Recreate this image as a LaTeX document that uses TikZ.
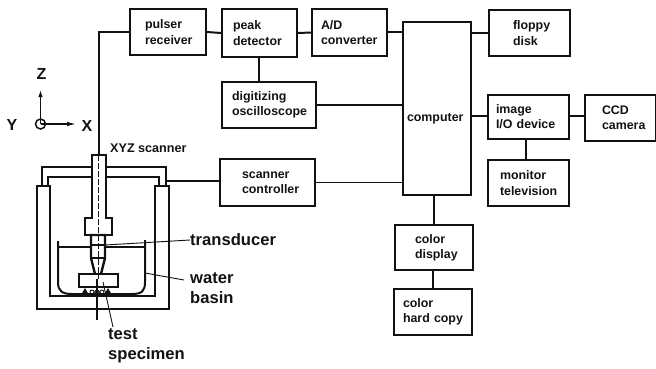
\documentclass[tikz,border=0pt]{standalone}
\usepackage{fontspec}
\setmainfont{Liberation Sans}
\usetikzlibrary{arrows.meta}
\definecolor{ink}{gray}{0.07}
\tikzset{
 x=1pt,y=-1pt,
 box/.style n args={3}{draw=ink,line width=2pt,rectangle,anchor=north west,inner xsep=0pt,inner ysep=0pt,
   text width=#1pt,minimum height=#2pt,align=left,text=ink,
   font=\fontsize{12.4}{15.2}\selectfont\bfseries,
   execute at begin node={\leftskip=#3pt\relax}},
 wire/.style={draw=ink,line width=2pt},
 thinwire/.style={draw=ink,line width=1.3pt},
 wall/.style={draw=ink,line width=2pt},
 fine/.style={draw=ink,line width=0.9pt},
 biglab/.style={font=\fontsize{16.6}{20}\selectfont\bfseries,text=ink,align=left,inner sep=0pt,anchor=west},
 axislab/.style={font=\fontsize{16}{18}\selectfont\bfseries,text=ink,inner sep=0pt},
}
\begin{document}
\begin{tikzpicture}
\useasboundingbox (0,0) rectangle (656,368);
% blocks
\node[box={76}{46}{15}]  (pulser)  at (129,8)   {pulser\\receiver};
\node[box={75}{48}{11}]  (peak)    at (221,8)   {peak\\detector};
\node[box={75}{47}{9}]   (adc)     at (311,8)   {A/D\\converter};
\node[box={68}{173}{4}]  (computer) at (402,21) {\smash{\raisebox{-13pt}{computer}}};
\node[box={81}{46}{24}]  (floppy)  at (488,9)   {floppy\\disk};
\node[box={81}{44}{8}]   (image)   at (487,94)  {image\\I/O device};
\node[box={71}{46}{17}]  (ccd)     at (584,94)  {CCD\\camera};
\node[box={81}{46}{12}]  (monitor) at (487,159) {monitor\\television};
\node[box={94}{46}{10}]  (digit)   at (221,81)  {digitizing\\oscilloscope};
\node[box={95}{47}{22}]  (scanner) at (219,158) {scanner\\controller};
\node[box={78}{45}{20}]  (display) at (394,224) {color\\display};
\node[box={78}{46}{9}]   (hard)    at (393,288) {color\\hard copy};
% connectors between blocks
\draw[wire] (pulser.east) -- (peak.west);
\draw[wire] (peak.east) -- (adc.west);
\draw[wire] ([yshift=0.5pt]adc.east) -- ([yshift=0.5pt]adc.east -| computer.west);
\draw[wire] (floppy.west) -- (floppy.west -| computer.east);
\draw[wire] (peak.south -| 259,0) -- (digit.north -| 259,0);
\draw[thinwire] (digit.east) -- (digit.east -| computer.west);
\draw[wire] ([yshift=1pt]image.west) -- ([yshift=1pt]image.west -| computer.east);
\draw[wire] ([yshift=1pt]image.east) -- ([yshift=1pt]image.east -| ccd.west);
\draw[wire] (image.south -| 526,0) -- (monitor.north -| 526,0);
\draw[thinwire] (scanner.east) -- (scanner.east -| computer.west);
\draw[wire] (434,0 |- computer.south) -- (434,0 |- display.north);
\draw[wire] (433,0 |- display.south) -- (433,0 |- hard.north);
% named ends on the apparatus
\coordinate (shafttop) at (99,154);
\coordinate (gantry) at (166,181);
\draw[wire] (shafttop) |- (pulser.west);
\draw[thinwire] (gantry) -- (gantry -| scanner.west);
% axes
\coordinate (orig) at (40.5,124);
\coordinate (zend) at (40.5,90);
\coordinate (xend) at (76,124);
\draw[fine,line width=1.2pt,-{Latex[length=7pt,width=4.5pt]}] (orig) -- (zend);
\draw[fine,line width=1.2pt,-{Latex[length=9pt,width=4.5pt]}] (orig) -- (xend);
\draw[wall,line width=1.5pt] (orig) circle[radius=5];
\node[axislab] (zlab) at (41.5,74) {Z};
\node[axislab] (ylab) at (12,125) {Y};
\node[axislab] (xlab) at (87,126) {X};
\node[font=\fontsize{12.6}{15}\selectfont\bfseries,text=ink,inner sep=0pt,anchor=west] (xyz) at (110,148.5) {XYZ scanner};
% outer vessel
\draw[wall,line width=2.4pt] (37,186) -- (37,309) -- (169,309) -- (169,186) -- (155,186) -- (155,296) -- (50,296) -- (50,186) -- cycle;
% gantry
\draw[wall] (42,186) -- (42,167) -- (92,167);
\draw[wall] (106,167) -- (166,167) -- (166,186);
\draw[wall] (48,186) -- (48,177) -- (92,177);
\draw[wall] (106,177) -- (159,177) -- (159,186);
% scanner shaft and head
\draw[wall,line width=2.4pt,fill=white] (92,218) -- (92,155) -- (106,155) -- (106,218) -- (112,218) -- (112,235) -- (85,235) -- (85,218) -- cycle;
% water basin
\draw[wall] (58,241) -- (58,282) .. controls (58,291) and (62,294) .. (72,294) -- (132,294) .. controls (142,294) and (145,291) .. (145,282) -- (145,240);
\draw[wall] (58,247) -- (91,247) (105,247) -- (146,247);
% transducer
\draw[wall,line width=2.4pt,fill=white] (91,235) -- (105,235) -- (105,258) -- (101,274) -- (99,279) -- (97,279) -- (95,274) -- (91,258) -- cycle;
\draw[wall] (91,245) -- (105,245) (91,258) -- (105,258);
% specimen and supports
\draw[wall,fill=white] (79,274) rectangle (118,287);
\fill[ink] (85,288) -- (81,295) -- (89,295) -- cycle;
\fill[ink] (108,288) -- (104,295) -- (112,295) -- cycle;
\draw[fine] (92,292) circle[radius=2] (97,292) circle[radius=2] (102,292) circle[radius=2];
% centre lines
\draw[fine,line width=1pt,dash pattern=on 6pt off 2pt] (98,155) -- (98,279);
\draw[fine,line width=1.2pt] (97,279) -- (97,320);
% labels and leaders
\node[biglab] (trans) at (190,240) {transducer};
\node[biglab] (water) at (190,288) {water\\[-0.5pt]basin};
\node[biglab] (spec) at (108,345.5) {test\\specimen};
\coordinate (ptrans) at (105,245);
\coordinate (pwater) at (145,273);
\coordinate (pspec) at (103,282);
\draw[fine] (ptrans) -- (trans.west);
\draw[fine] (pwater) -- (184,280);
\draw[fine] (pspec) -- (113,327);
\end{tikzpicture}
\end{document}
